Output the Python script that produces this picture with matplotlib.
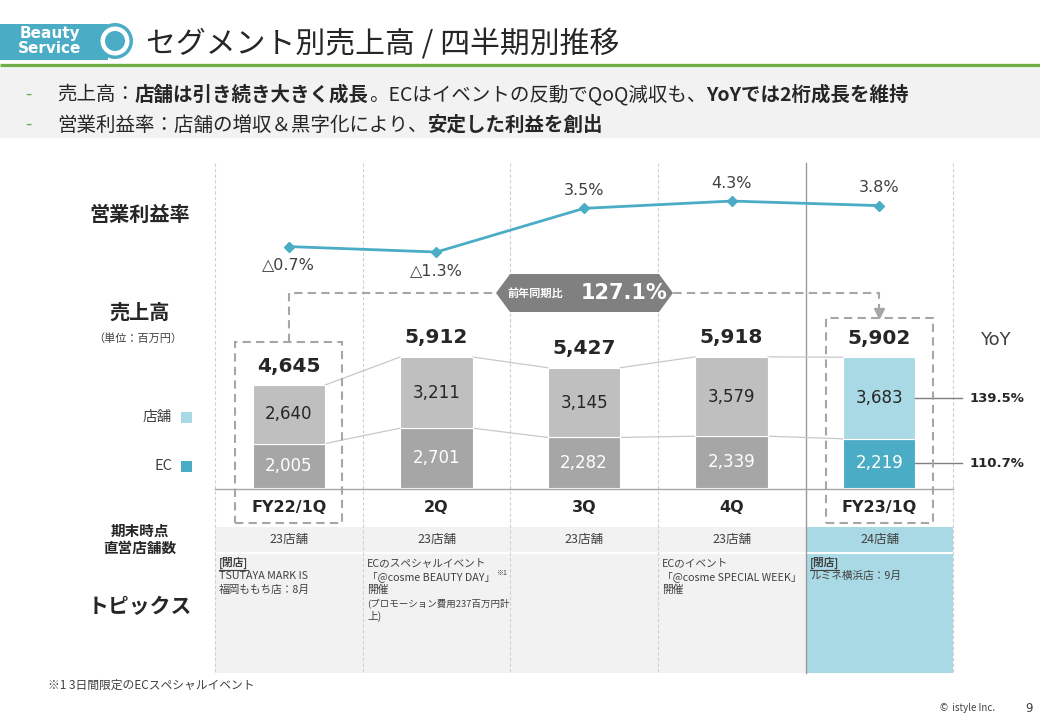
import matplotlib
matplotlib.use("Agg")
import matplotlib.pyplot as plt
from matplotlib.patches import Rectangle, Polygon, Circle

plt.rcParams['font.family'] = ['Noto Sans CJK JP', 'DejaVu Sans']
NUM = ['DejaVu Sans', 'Noto Sans CJK JP']

# data
quarters = ['FY22/1Q', '2Q', '3Q', '4Q', 'FY23/1Q']
store_sales = [2640, 3211, 3145, 3579, 3683]
ec_sales = [2005, 2701, 2282, 2339, 2219]
totals = [4645, 5912, 5427, 5918, 5902]
op_margin = [-0.7, -1.3, 3.5, 4.3, 3.8]
margin_labels = ['△0.7%', '△1.3%', '3.5%', '4.3%', '3.8%']
store_counts = ['23店舗', '23店舗', '23店舗', '23店舗', '24店舗']
yoy_store = '139.5%'
yoy_ec = '110.7%'
yoy_total = '127.1%'
topics = [
    ['[閉店]', 'TSUTAYA MARK IS', '福岡ももち店：8月'],
    ['ECのスペシャルイベント', '「@cosme BEAUTY DAY」', '開催', '(プロモーション費用237百万円計', '上)'],
    [],
    ['ECのイベント', '「@cosme SPECIAL WEEK」', '開催'],
    ['[閉店]', 'ルミネ横浜店：9月'],
]

W, H = 1040, 720
fig = plt.figure(figsize=(W / 100, H / 100), dpi=100)
fig.patch.set_facecolor('white')
r = fig.canvas.get_renderer()


def pix_axes(x0, y0, x1, y1, z):
    return fig.add_axes([x0 / W, 1 - y1 / H, (x1 - x0) / W, (y1 - y0) / H], zorder=z)


bg = pix_axes(0, 0, W, H, 0)
bg.set_xlim(0, W)
bg.set_ylim(H, 0)
bg.axis('off')

top = pix_axes(0, 0, W, H, 10)
top.set_xlim(0, W)
top.set_ylim(H, 0)
top.axis('off')
top.patch.set_alpha(0)

DARK = '#262626'
TXT = '#404040'
BLUE = '#4bacc6'
LBLUE = '#a9d9e5'
GREEN = '#70ad47'

# ---- header
bg.add_patch(Rectangle((0, 24), 108, 36, color=BLUE, lw=0))
bg.add_patch(Circle((115, 41), 18, color=BLUE, lw=0))
bg.add_patch(Circle((115, 41), 14.5, color='white', lw=0))
bg.add_patch(Circle((115, 41), 10, color=BLUE, lw=0))
bg.text(50, 41, 'Beauty\nService', color='white', fontsize=11, fontweight='bold',
        family=NUM, ha='center', va='center', linespacing=0.95)
bg.text(146, 44, 'セグメント別売上高 / 四半期別推移', fontsize=21.5, color=DARK, va='center')
bg.plot([0, W], [65, 65], color=GREEN, lw=2.4, solid_capstyle='butt')
bg.add_patch(Rectangle((0, 68), W, 70, color='#f2f2f2', lw=0))


def rich_line(x, y, parts, size):
    for s, wt in parts:
        t = bg.text(x, y, s, fontsize=size, fontweight=wt, va='center', ha='left', color=DARK)
        x += t.get_window_extent(renderer=r).width


bg.text(25, 95, '-', color=GREEN, fontsize=13, va='center')
bg.text(25, 125, '-', color=GREEN, fontsize=13, va='center')
rich_line(57, 95, [('売上高：', 'normal'), ('店舗は引き続き大きく成長', 'bold'),
                   ('。ECはイベントの反動でQoQ減収も、', 'normal'),
                   ('YoYでは2桁成長を維持', 'bold')], 14)
rich_line(57, 125, [('営業利益率：店舗の増収＆黒字化により、', 'normal'),
                    ('安定した利益を創出', 'bold')], 14)

# ---- grid columns and table
bounds = [215, 363, 510, 658, 806, 953]
for i in range(5):
    fc = LBLUE if i == 4 else '#f2f2f2'
    bg.add_patch(Rectangle((bounds[i], 527), bounds[i + 1] - bounds[i], 146, color=fc, lw=0))
bg.plot([215, 953], [552.5, 552.5], color='white', lw=1.5)
for i, bx_ in enumerate(bounds):
    if i == 4:
        bg.plot([bx_, bx_], [163, 673], color='#9a9a9a', lw=1)
    else:
        bg.plot([bx_, bx_], [163, 673], color='#cfcfcf', lw=0.8, ls=(0, (3, 2)))
bg.plot([215, 953], [488.5, 488.5], color='#a6a6a6', lw=1)

for i, c in enumerate(store_counts):
    bg.text((bounds[i] + bounds[i + 1]) / 2, 540, c, fontsize=9, color=TXT,
            ha='center', va='center')
for i, lines in enumerate(topics):
    x0 = bounds[i] + 4
    room = bounds[i + 1] - bounds[i] - 6
    for k, ln in enumerate(lines):
        y = 563 + k * 13.4
        t = bg.text(x0, y, ln, fontsize=7.7, color=TXT, ha='left', va='center',
                    fontweight='bold' if ln == '[閉店]' else 'normal')
        bb = t.get_window_extent(renderer=r)
        if bb.width > room:
            t.set_fontsize(7.7 * room / bb.width)
            bb = t.get_window_extent(renderer=r)
        if ln == '[閉店]':
            bg.plot([x0, x0 + bb.width], [y + 6.5, y + 6.5], color=TXT, lw=0.8)
        if ln.endswith('DAY」'):
            bg.text(x0 + bb.width + 1, y - 3.5, '※1', fontsize=5, color=TXT, ha='left', va='center')

# ---- left labels
bg.text(140, 214, '営業利益率', fontsize=14.5, fontweight='bold', color=DARK, ha='center', va='center')
bg.text(140, 312, '売上高', fontsize=14.5, fontweight='bold', color=DARK, ha='center', va='center')
bg.text(138, 339, '（単位：百万円）', fontsize=8, color=TXT, ha='center', va='center')
bg.text(172, 417, '店舗', fontsize=10.5, color=TXT, ha='right', va='center')
bg.text(172, 466, 'EC', fontsize=10.5, color=TXT, ha='right', va='center')
bg.add_patch(Rectangle((181, 412), 11, 11, color=LBLUE, lw=0))
bg.add_patch(Rectangle((181, 461), 11, 11, color=BLUE, lw=0))
bg.text(140, 539, '期末時点\n直営店舗数', fontsize=10.5, fontweight='bold', color=DARK,
        ha='center', va='center', linespacing=1.1)
bg.text(140, 607, 'トピックス', fontsize=15, fontweight='bold', color=DARK, ha='center', va='center')

# ---- footer
bg.text(48, 685, '※1 3日間限定のECスペシャルイベント', fontsize=8.5, color=TXT, va='center')
bg.text(940, 708, '©  istyle Inc.', fontsize=7, color=TXT, va='center')
bg.text(1025, 708, '9', fontsize=8.5, color=TXT, va='center', family=NUM)

# ---- bar chart
SCALE = 0.02216  # px per unit
bx = pix_axes(215, 155, 953, 488, 1)
bx.set_xlim(-0.5, 4.5)
bx.set_ylim(0, 333 / SCALE)
bx.axis('off')
bx.patch.set_alpha(0)
xs = range(len(quarters))
bw = 0.49
ec_col = ['#a6a6a6'] * 4 + [BLUE]
st_col = ['#bfbfbf'] * 4 + [LBLUE]
bx.bar(xs, ec_sales, bw, color=ec_col, edgecolor='white', lw=0.8, zorder=3)
bx.bar(xs, store_sales, bw, bottom=ec_sales, color=st_col, edgecolor='white', lw=0.8, zorder=3)
for i in range(len(quarters) - 1):
    bx.plot([i + bw / 2, i + 1 - bw / 2], [totals[i], totals[i + 1]], color='#c8c8c8', lw=0.9, zorder=2)
    bx.plot([i + bw / 2, i + 1 - bw / 2], [ec_sales[i], ec_sales[i + 1]], color='#c8c8c8', lw=0.9, zorder=2)
for i in xs:
    bx.text(i, ec_sales[i] / 2, f'{ec_sales[i]:,}', ha='center', va='center', color='white',
            fontsize=12, family=NUM, zorder=4)
    bx.text(i, ec_sales[i] + store_sales[i] / 2, f'{store_sales[i]:,}', ha='center', va='center',
            color=DARK, fontsize=12, family=NUM, zorder=4)
    bx.text(i, totals[i] + 19 / SCALE, f'{totals[i]:,}', ha='center', va='center', color=DARK,
            fontsize=14.5, fontweight='bold', family=NUM, zorder=4)
    bx.text(i, -19 / SCALE, quarters[i], ha='center', va='center', color=DARK, fontsize=11.5,
            fontweight='bold', family=NUM, clip_on=False)

# dashed comparison boxes and arrow
box_top = [totals[0] + 43 / SCALE, totals[4] + 39 / SCALE]
for j, i in enumerate([0, 4]):
    bx.add_patch(Rectangle((i - 0.363, -35 / SCALE), 0.726, box_top[j] + 35 / SCALE, fill=False,
                           edgecolor='#a6a6a6', lw=1.5, ls=(0, (4, 2.5)), clip_on=False, zorder=5))
hy = (488 - 293) / SCALE
bx.plot([0, 0, 4, 4], [box_top[0], hy, hy, box_top[1] + 8 / SCALE], color='#a6a6a6', lw=1.5,
        ls=(0, (4, 2.5)), zorder=5)
bx.plot([4], [box_top[1] + 5 / SCALE], marker='v', color='#a6a6a6', ms=7, zorder=5)

# YoY
seg_mid = [ec_sales[4] + store_sales[4] / 2, ec_sales[4] / 2]
for v, lab in zip(seg_mid, [yoy_store, yoy_ec]):
    bx.plot([4 + bw / 2, 4.56], [v, v], color='#7f7f7f', lw=1, clip_on=False, zorder=4)
    bx.text(4.615, v, lab, ha='left', va='center', fontsize=9.5, fontweight='bold', color=DARK,
            family=NUM, clip_on=False)
bg.text(995, 340, 'YoY', fontsize=13, color=TXT, ha='center', va='center', family=NUM)

# label hexagon
hx = [496, 510, 659, 673, 659, 510]
hyy = [293, 274, 274, 293, 312, 312]
top.add_patch(Polygon(list(zip(hx, hyy)), closed=True, color='#808080', lw=0))
top.text(535, 293, '前年同期比', fontsize=8, fontweight='bold', color='white', ha='center', va='center')
top.text(624, 293, yoy_total, fontsize=15, fontweight='bold', color='white', ha='center',
         va='center', family=NUM)

# ---- operating margin line
lx = pix_axes(215, 155, 953, 488, 2)
lx.set_xlim(-0.5, 4.5)
lx.set_ylim(-(488 - 240.2) / 9.1, (240.2 - 155) / 9.1)
lx.axis('off')
lx.patch.set_alpha(0)
lx.plot(list(xs), op_margin, color=BLUE, lw=2, marker='D', ms=5.5)
for i, (v, lab) in enumerate(zip(op_margin, margin_labels)):
    off = -13 if v < 0 else 13
    lx.annotate(lab, (i, v), xytext=(0, off), textcoords='offset points', ha='center',
                va='center', fontsize=11.5, color=TXT, family=NUM)

fig.savefig('out.png', dpi=100, facecolor='white')
